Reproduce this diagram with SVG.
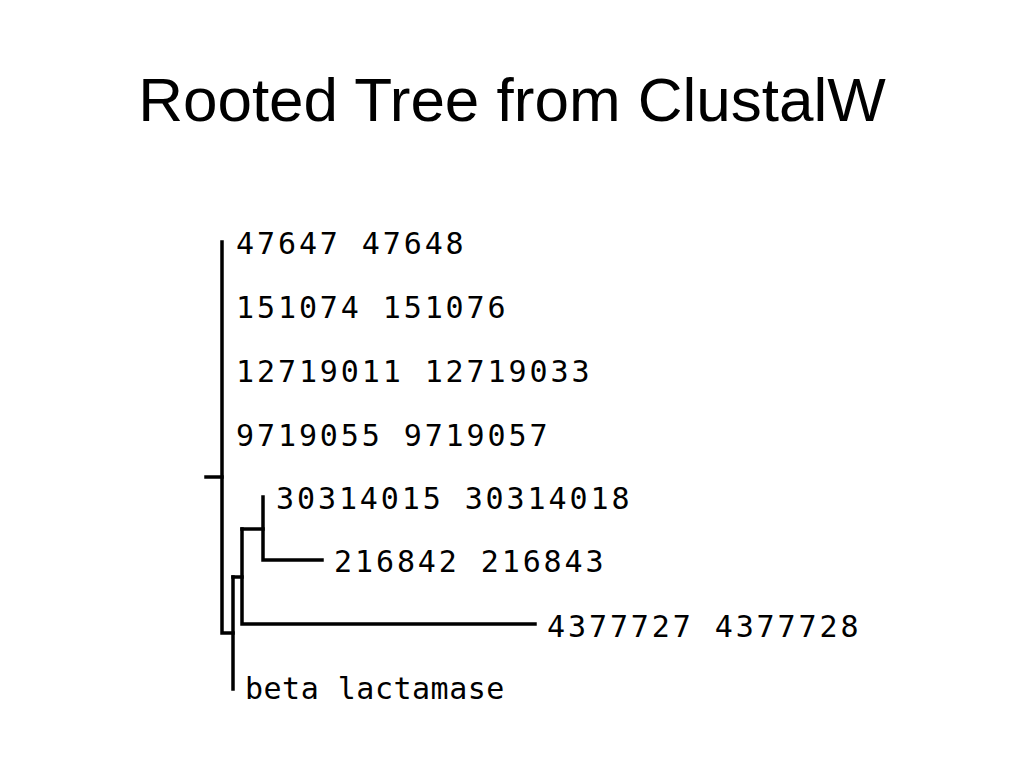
<svg xmlns="http://www.w3.org/2000/svg" width="1024" height="768" viewBox="0 0 1024 768">
<style>
.title{font-family:"Liberation Sans",Arial,sans-serif;font-size:62px;fill:#000}
.lbl{font-family:"DejaVu Sans Mono","Liberation Mono",monospace;font-size:30px;letter-spacing:2.9px;fill:#000}
.br{fill:none;stroke:#000;stroke-width:3.5;stroke-linecap:square;stroke-linejoin:miter}
</style>
<rect width="1024" height="768" fill="#fff"/>
<text class="title" x="512" y="121" text-anchor="middle">Rooted Tree from ClustalW</text>
<g id="connectors">
<path class="br" d="M206 477 H222"/>
<path class="br" d="M222 242 V633 H233"/>
<path class="br" d="M233 577 V689"/>
<path class="br" d="M233 577 H242"/>
<path class="br" d="M242 529 V624 H535"/>
<path class="br" d="M242 529 H263"/>
<path class="br" d="M263 497 V560 H322"/>
</g>
<g id="leaf1"><text class="lbl" x="236" y="254">47647 47648</text></g>
<g id="leaf2"><text class="lbl" x="236" y="318">151074 151076</text></g>
<g id="leaf3"><text class="lbl" x="236" y="382">12719011 12719033</text></g>
<g id="leaf4"><text class="lbl" x="236" y="446">9719055 9719057</text></g>
<g id="leaf5"><text class="lbl" x="276" y="509">30314015 30314018</text></g>
<g id="leaf6"><text class="lbl" x="334" y="572">216842 216843</text></g>
<g id="leaf7"><text class="lbl" x="547" y="637">4377727 4377728</text></g>
<g id="leaf8"><text class="lbl" x="245" y="699" style="letter-spacing:0.5px">beta lactamase</text></g>
</svg>
